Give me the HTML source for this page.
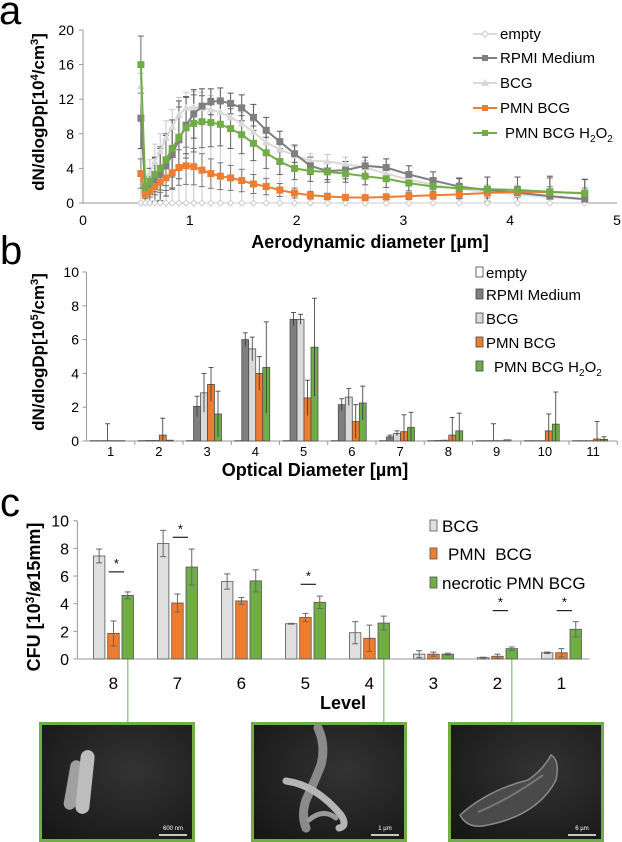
<!DOCTYPE html>
<html><head><meta charset="utf-8">
<style>
html,body{margin:0;padding:0;background:#fff;}
svg{display:block;font-family:"Liberation Sans",Arial,sans-serif;}
</style></head>
<body>
<svg id="fig" width="622" height="842" viewBox="0 0 622 842" xmlns="http://www.w3.org/2000/svg">
<g id="pa"></g>
<g id="pb"></g>
<g id="pc"></g>
<g id="pimg"></g>
</svg>
<script>
// ---------- Panel a data ----------
const aDiam = [0.542,0.583,0.626,0.673,0.723,0.777,0.835,0.898,0.965,1.037,1.114,1.197,1.286,1.382,1.486,1.596,1.715,1.843,1.981,2.129,2.288,2.458,2.642,2.839,3.051,3.278,3.523,3.786,4.068,4.371,4.698];
const aEmpty = [0,0,0,0,0,0,0,0,0,0,0,0,0,0,0,0,0,0,0,0,0,0,0,0,0,0,0,0,0,0,0];
const aRPMI = [9.8,1.5,2.0,2.7,3.3,4.3,5.6,7.3,9.0,10.3,11.2,11.7,11.8,11.5,11.0,9.9,8.4,7.1,5.7,4.3,3.7,3.8,4.3,4.1,3.3,2.6,1.9,1.5,1.2,0.8,0.45];
const aBCG = [13.5,2.2,3.5,4.8,6.0,7.5,8.8,10.2,11.0,11.1,11.0,10.8,10.5,9.9,9.2,8.2,7.0,6.2,5.5,4.9,4.8,4.5,4.1,3.4,2.7,2.1,1.6,1.3,1.0,0.7,0.4];
const aPMN = [3.4,1.0,1.4,1.9,2.4,2.9,3.5,4.1,4.3,4.2,3.8,3.4,3.1,2.9,2.6,2.2,1.9,1.5,1.15,0.9,0.75,0.65,0.62,0.7,0.8,0.9,1.0,1.15,1.3,1.25,1.15];
const aH2O2 = [16.0,1.8,2.5,3.3,4.0,5.0,6.3,7.6,8.7,9.2,9.4,9.3,9.1,8.6,7.9,6.9,5.8,4.8,4.0,3.7,3.6,3.4,3.1,2.8,2.3,1.9,1.7,1.6,1.5,1.3,1.1];
const aErrRPMI = [3.5,1.5,2.0,2.5,3.0,3.5,4.0,4.5,3.3,2.8,2.0,1.5,1.5,1.2,1.5,1.5,1.5,1.2,1.0,1.0,1.0,1.0,1.0,1.0,1.0,1.0,0.9,1.5,1.8,2.3,2.3];
const aErrBCG = [1.5,1.0,1.5,2.0,2.0,2.0,2.0,2.0,1.8,1.8,1.8,1.6,1.5,1.4,1.3,1.2,1.2,1.0,1.0,0.8,0.8,0.8,0.8,0.8,0.8,0.8,0.8,0.8,0.8,0.8,0.8];
const aErrH2O2 = [3.3,1.0,1.5,2.0,2.5,3.0,3.3,3.5,3.5,3.3,3.0,2.8,2.5,2.3,2.2,2.0,1.8,1.5,1.3,1.2,1.2,1.0,1.0,1.0,0.9,0.9,1.2,1.4,1.5,1.6,1.6];
const aXTicks = [0,1,2,3,4,5];
const aYTicks = [0,4,8,12,16,20];

// ---------- Panel b data ----------
const bCats = ["1","2","3","4","5","6","7","8","9","10","11"];
const bEmpty = [0.02,0.02,0.02,0.02,0.02,0.02,0.02,0.02,0.02,0.02,0.02];
const bRPMI = [0.02,0.03,2.05,6.0,7.2,2.15,0.25,0.03,0.02,0.02,0.02];
const bBCG = [0.02,0.03,2.85,5.45,7.2,2.6,0.45,0.05,0.02,0.02,0.02];
const bPMN = [0.02,0.35,3.35,4.0,2.55,1.15,0.55,0.35,0.02,0.6,0.12];
const bH2O2 = [0.02,0.05,1.6,4.35,5.55,2.25,0.8,0.6,0.07,1.0,0.1];
const bErrRPMI = [0,0,0.6,0.4,0.4,0.35,0.1,0,0,0,0];
const bErrBCG = [1.0,0,1.15,0.7,0.3,0.5,0.15,0,1.0,0,0];
const bErrPMN = [0,1.0,1.0,1.0,1.05,1.0,1.0,1.05,0,1.0,1.03];
const bErrH2O2 = [0,0,1.35,2.7,2.9,1.0,0.9,1.05,0,1.9,0.15];
const bYTicks = [0,2,4,6,8,10];

// ---------- Panel c data ----------
const cCats = ["8","7","6","5","4","3","2","1"];
const cBCG = [7.45,8.35,5.6,2.55,1.9,0.35,0.1,0.45];
const cBCGErr = [0.5,0.95,0.55,0.03,0.8,0.25,0.03,0.05];
const cPMN = [1.85,4.05,4.2,3.0,1.5,0.35,0.2,0.45];
const cPMNErr = [0.9,0.65,0.25,0.3,0.95,0.15,0.15,0.3];
const cNec = [4.6,6.65,5.65,4.1,2.6,0.35,0.75,2.15];
const cNecErr = [0.25,1.3,0.8,0.45,0.5,0.07,0.12,0.55];
const cSigCats = [0,1,3,6,7];
const cSigLevel = [6.3,8.8,5.4,3.5,3.5];
const cYTicks = [0,2,4,6,8,10];

const NS="http://www.w3.org/2000/svg";
function mk(tag, attrs, parent){const e=document.createElementNS(NS,tag);for(const k in attrs)e.setAttribute(k,attrs[k]);parent.appendChild(e);return e;}
function txt(s, attrs, parent){const e=mk('text',attrs,parent);e.textContent=s;return e;}

const ORANGE="#ed7d31", GREEN="#70ad47", DGRAY="#7f7f7f", LGRAY="#d9d9d9";

// ---------- Panel a ----------
(function(){
 const g=document.getElementById('pa');
 const X=v=>83+v*106.8, Y=v=>203-v*(173/20);
 const letter=txt('a',{x:-1,y:24,'font-size':40},g);
 
 const ax=mk('line',{x1:X(0),y1:Y(0),x2:X(5),y2:Y(0),stroke:'#999','stroke-width':1},g);
 
 const ay=mk('line',{x1:X(0),y1:Y(0),x2:X(0),y2:Y(20),stroke:'#999','stroke-width':1},g);
 
 aYTicks.forEach(t=>{mk('line',{x1:X(0)-4,x2:X(0),y1:Y(t),y2:Y(t),stroke:'#999'},g);
  const e=txt(String(t),{x:74,y:Y(t)+5,'font-size':14,'text-anchor':'end'},g);
  });
 aXTicks.forEach(t=>{const e=txt(String(t),{x:X(t),y:225,'font-size':14,'text-anchor':'middle'},g);
  });
 const xt=txt('Aerodynamic diameter [µm]',{x:370,y:248,'font-size':18,'font-weight':'bold','text-anchor':'middle'},g);
 
 const yt=txt('',{transform:'translate(44,112) rotate(-90)','font-size':17,'font-weight':'bold','text-anchor':'middle'},g);
 yt.innerHTML='dN/dlogDp[10<tspan dy="-6" font-size="11">4</tspan><tspan dy="6">/cm</tspan><tspan dy="-6" font-size="11">3</tspan><tspan dy="6">]</tspan>';
 
 const clipId='clipA';const cp=mk('clipPath',{id:clipId},g);mk('rect',{x:X(0),y:0,width:X(5)-X(0),height:210},cp);
 const pg=mk('g',{'clip-path':'url(#'+clipId+')'},g);
 function errs(vals,up,down,col){vals.forEach((v,i)=>{const x=X(aDiam[i]);const lo=Math.max(0,v-down[i]),hi=v+up[i];
  const l=mk('line',{x1:x,x2:x,y1:Y(lo),y2:Y(hi),stroke:col,'stroke-width':1},pg);
  
  mk('line',{x1:x-3,x2:x+3,y1:Y(hi),y2:Y(hi),stroke:col,'stroke-width':1},pg);
  mk('line',{x1:x-3,x2:x+3,y1:Y(lo),y2:Y(lo),stroke:col,'stroke-width':1},pg);});}
 errs(aBCG,aErrBCG,aBCG,'#c8c8c8');
 errs(aRPMI,aErrRPMI,aErrRPMI,'#555');
 errs(aH2O2,aErrH2O2,aErrH2O2,'#666');
 errs(aPMN,aPMN.map(v=>v*0.5),aPMN.map(v=>v*0.5),'#777');
 function series(vals,col,marker,name,sw){
  const sg=mk('g',{},pg);
  mk('polyline',{points:vals.map((v,i)=>X(aDiam[i])+','+Y(v)).join(' '),fill:'none',stroke:col,'stroke-width':sw},sg);
  vals.forEach((v,i)=>{const x=X(aDiam[i]),y=Y(v);let m;
   if(marker==='sq')m=mk('rect',{x:x-3.5,y:y-3.5,width:7,height:7,fill:col},sg);
   else if(marker==='tri')m=mk('polygon',{points:`${x},${y-4} ${x-4},${y+3} ${x+4},${y+3}`,fill:col},sg);
   else m=mk('polygon',{points:`${x},${y-3} ${x+3},${y} ${x},${y+3} ${x-3},${y}`,fill:'#fff',stroke:'#ccc'},sg);
   });}
 series(aEmpty,'#ddd','dia','series-empty',1.5);
 series(aBCG,LGRAY,'tri','series-bcg',2);
 series(aRPMI,DGRAY,'sq','series-rpmi',2);
 series(aPMN,ORANGE,'sq','series-pmn-bcg',2);
 series(aH2O2,GREEN,'sq','series-pmn-bcg-h2o2',2);
 const leg=mk('g',{},g);
 const L=[['empty','#ddd','dia',34],['RPMI Medium',DGRAY,'sq',58],['BCG',LGRAY,'tri',83],['PMN BCG',ORANGE,'sq',108],['PMN BCG H2O2',GREEN,'sq',133]];
 L.forEach(([n,c,m,y])=>{const e=mk('g',{},leg);
  mk('line',{x1:473,x2:497,y1:y,y2:y,stroke:c,'stroke-width':2},e);
  if(m==='sq')mk('rect',{x:482,y:y-3,width:6,height:6,fill:c},e);
  else if(m==='tri')mk('polygon',{points:`485,${y-4} 481,${y+3} 489,${y+3}`,fill:c},e);
  else mk('polygon',{points:`485,${y-3} 488,${y} 485,${y+3} 482,${y}`,fill:'#fff',stroke:'#ccc'},e);
  const t=txt('',{x:n==='PMN BCG H2O2'?505:500,y:y+5,'font-size':15},e);
  if(n==='PMN BCG H2O2')t.innerHTML='PMN BCG H<tspan dy="4" font-size="10">2</tspan><tspan dy="-4">O</tspan><tspan dy="4" font-size="10">2</tspan>';else t.textContent=n;});
})();

// ---------- Panel b ----------
(function(){
 const g=document.getElementById('pb');
 const X0=86.5,CW=48.25,Y=v=>441-v*(169/10);
 const letter=txt('b',{x:0,y:264,'font-size':40},g);
 
 const ay=mk('line',{x1:X0,y1:Y(0),x2:X0,y2:Y(10),stroke:'#999'},g);
 const ax=mk('line',{x1:X0,y1:Y(0),x2:X0+CW*11,y2:Y(0),stroke:'#999'},g);
 bYTicks.forEach(t=>{mk('line',{x1:X0-4,x2:X0,y1:Y(t),y2:Y(t),stroke:'#999'},g);
  const e=txt(String(t),{x:79,y:Y(t)+5,'font-size':14,'text-anchor':'end'},g);});
 bCats.forEach((c,i)=>{mk('line',{x1:X0+CW*(i+1),x2:X0+CW*(i+1),y1:Y(0),y2:Y(0)+4,stroke:'#999'},g);
  const e=txt(c,{x:X0+CW*(i+0.5),y:456,'font-size':13,'text-anchor':'middle'},g);});
 const xt=txt('Optical Diameter [µm]',{x:315,y:476,'font-size':18,'font-weight':'bold','text-anchor':'middle'},g);
 
 const yt=txt('',{transform:'translate(44,352) rotate(-90)','font-size':17,'font-weight':'bold','text-anchor':'middle'},g);
 yt.innerHTML='dN/dlogDp[10<tspan dy="-6" font-size="11">5</tspan><tspan dy="6">/cm</tspan><tspan dy="-6" font-size="11">3</tspan><tspan dy="6">]</tspan>';
 
 const S=[[bEmpty,null,'#fff','series-empty'],[bRPMI,bErrRPMI,DGRAY,'series-rpmi'],[bBCG,bErrBCG,LGRAY,'series-bcg'],[bPMN,bErrPMN,ORANGE,'series-pmn-bcg'],[bH2O2,bErrH2O2,GREEN,'series-pmn-bcg-h2o2']];
 S.forEach(([vals,errs,col,name],si)=>{vals.forEach((v,i)=>{const x=X0+CW*i+3.5+si*7;
  const r=mk('rect',{x:x,y:Y(v),width:7,height:Y(0)-Y(v),fill:col,stroke:'#444','stroke-width':0.7},g);
  
  if(errs&&errs[i]>0){const cx=x+3.5,hi=v+errs[i],lo=Math.max(0,v-errs[i]);
   const l=mk('line',{x1:cx,x2:cx,y1:Y(lo),y2:Y(hi),stroke:'#333','stroke-width':0.8},g);
   mk('line',{x1:cx-2.5,x2:cx+2.5,y1:Y(hi),y2:Y(hi),stroke:'#333','stroke-width':0.8},g);}});});
 const leg=mk('g',{},g);
 const L=[['empty','#fff',272],['RPMI Medium',DGRAY,294],['BCG',LGRAY,318],['PMN BCG',ORANGE,342],['PMN BCG H2O2',GREEN,366]];
 L.forEach(([n,c,y])=>{const e=mk('g',{},leg);
  mk('rect',{x:476,y:y-5,width:7,height:10,fill:c,stroke:'#444','stroke-width':0.8},e);
  const t=txt('',{x:n==='PMN BCG H2O2'?494:486,y:y+6,'font-size':15},e);
  if(n==='PMN BCG H2O2')t.innerHTML='PMN BCG H<tspan dy="4" font-size="10">2</tspan><tspan dy="-4">O</tspan><tspan dy="4" font-size="10">2</tspan>';else t.textContent=n;});
})();

// ---------- Panel c ----------
(function(){
 const g=document.getElementById('pc');
 const X0=77.4,CW=64,Y=v=>659-v*(138.3/10);
 const letter=txt('c',{x:0,y:516,'font-size':40},g);
 
 const ay=mk('line',{x1:X0,y1:Y(0),x2:X0,y2:Y(10),stroke:'#999'},g);
 const ax=mk('line',{x1:X0,y1:Y(0),x2:X0+CW*8,y2:Y(0),stroke:'#999'},g);
 cYTicks.forEach(t=>{mk('line',{x1:X0-4,x2:X0,y1:Y(t),y2:Y(t),stroke:'#999'},g);
  const e=txt(String(t),{x:69,y:Y(t)+6,'font-size':16,'text-anchor':'end'},g);});
 cCats.forEach((c,i)=>{const e=txt(c,{x:X0+CW*(i+0.5)+4,y:689,'font-size':17,'text-anchor':'middle'},g);});
 const xt=txt('Level',{x:343,y:709,'font-size':18,'font-weight':'bold','text-anchor':'middle'},g);
 
 const yt=txt('',{transform:'translate(40,597) rotate(-90)','font-size':18,'font-weight':'bold','text-anchor':'middle'},g);
 yt.innerHTML='CFU [10<tspan dy="-6" font-size="12">3</tspan><tspan dy="6">/ø15mm]</tspan>';
 
 [0,4,6].forEach(i=>{const x=X0+CW*i+16+2*14.3+5.75;
  const l=mk('line',{x1:x,x2:x,y1:Y(0),y2:722,stroke:'#9ccf7e','stroke-width':1.5},g);
  });
 const S=[[cBCG,cBCGErr,'#e0e0e0','series-bcg'],[cPMN,cPMNErr,ORANGE,'series-pmn-bcg'],[cNec,cNecErr,GREEN,'series-necrotic-pmn-bcg']];
 S.forEach(([vals,errs,col,name],si)=>{vals.forEach((v,i)=>{const x=X0+CW*i+16+si*14.3;
  const r=mk('rect',{x:x,y:Y(v),width:11.5,height:Y(0)-Y(v),fill:col,stroke:'#555','stroke-width':0.8},g);
  
  const cx=x+5.75,hi=v+errs[i],lo=Math.max(0,v-errs[i]);
  const l=mk('line',{x1:cx,x2:cx,y1:Y(lo),y2:Y(hi),stroke:'#666','stroke-width':1},g);
  mk('line',{x1:cx-3,x2:cx+3,y1:Y(hi),y2:Y(hi),stroke:'#666'},g);mk('line',{x1:cx-3,x2:cx+3,y1:Y(lo),y2:Y(lo),stroke:'#666'},g);});});
 cSigCats.forEach((ci,k)=>{const x1=X0+CW*ci+16+14.3+1,x2=x1+14.3+1;const y=Y(cSigLevel[k]);
  const l=mk('line',{x1:x1,x2:x2,y1:y,y2:y,stroke:'#222','stroke-width':1.2},g);
  const s=txt('*',{x:(x1+x2)/2,y:y-4,'font-size':13,'text-anchor':'middle'},g);});
 const leg=mk('g',{},g);
 const L=[['BCG','#e0e0e0',526,442],['PMN  BCG',ORANGE,554,448],['necrotic PMN BCG',GREEN,583,442]];
 L.forEach(([n,c,y,tx])=>{const e=mk('g',{},leg);
  mk('rect',{x:430,y:y-6,width:7,height:11,fill:c,stroke:'#555','stroke-width':0.8},e);
  const t=txt(n,{x:tx,y:y+6,'font-size':17},e);t.style.whiteSpace='pre';});
})();

// ---------- SEM images ----------
(function(){
 const g=document.getElementById('pimg');
 const imgs=[[39,'600 nm','sem-image-level-8'],[251,'1 µm','sem-image-level-4'],[448,'6 µm','sem-image-level-2']];
 const defs=mk('defs',{},g);
 const rg=mk('radialGradient',{id:'semg',cx:'0.6',cy:'0.4',r:'0.8'},defs);
 mk('stop',{offset:'0','stop-color':'#333'},rg);mk('stop',{offset:'1','stop-color':'#161616'},rg);
 imgs.forEach(([x,lab,name],i)=>{const e=mk('g',{},g);
  mk('rect',{x:x+1.5,y:723.5,width:153,height:117,fill:'url(#semg)',stroke:GREEN,'stroke-width':3},e);
  if(i===0){mk('rect',{x:x+28,y:760,width:12,height:50,rx:6,fill:'#a0a0a0',transform:`rotate(10 ${x+34} 785)`},e);
   mk('rect',{x:x+39,y:750,width:14,height:64,rx:7,fill:'#bdbdbd',transform:`rotate(6 ${x+46} 782)`},e);}
  if(i===1){mk('path',{d:`M${x+67} 728 Q${x+75} 745 ${x+70} 765 Q${x+62} 785 ${x+55} 800 Q${x+50} 815 ${x+55} 828`,fill:'none',stroke:'#8a8a8a','stroke-width':9,'stroke-linecap':'round'},e);
   mk('path',{d:`M${x+35} 781 Q${x+65} 785 ${x+90} 815 Q${x+97} 826 ${x+88} 828`,fill:'none',stroke:'#b5b5b5','stroke-width':7,'stroke-linecap':'round'},e);
   mk('path',{d:`M${x+58} 820 Q${x+72} 808 ${x+85} 818`,fill:'none',stroke:'#999','stroke-width':5,'stroke-linecap':'round'},e);}
  if(i===2){mk('path',{d:`M${x+12} 815 Q${x+40} 790 ${x+80} 780 Q${x+95} 770 ${x+103} 755 Q${x+112} 760 ${x+108} 780 Q${x+90} 815 ${x+40} 825 Q${x+20} 830 ${x+12} 815Z`,fill:'#4a4a4a',stroke:'#8a8a8a','stroke-width':1.5},e);
   mk('path',{d:`M${x+30} 812 Q${x+60} 800 ${x+95} 775`,fill:'none',stroke:'#777','stroke-width':2},e);}
  mk('line',{x1:x+120,x2:x+148,y1:835,y2:835,stroke:'#fff','stroke-width':1.5},e);
  txt(lab,{x:x+134,y:830,'font-size':6,fill:'#fff','text-anchor':'middle'},e);});
})();
</script>
</body></html>
